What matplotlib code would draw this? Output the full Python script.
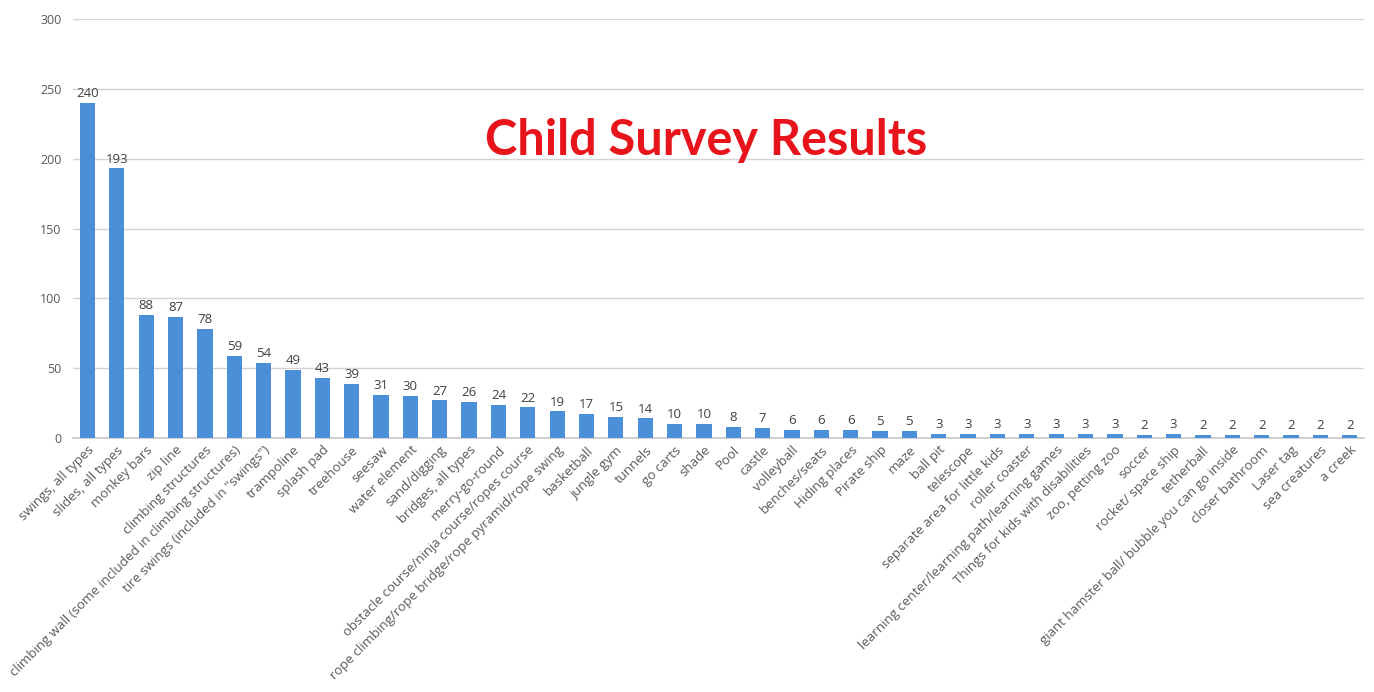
import matplotlib
matplotlib.use("Agg")
import matplotlib.pyplot as plt

categories = [
    "swings, all types", "slides, all types", "monkey bars", "zip line",
    "climbing structures", "climbing wall (some included in climbing structures)",
    "tire swings (included in \"swings\")", "trampoline", "splash pad", "treehouse",
    "seesaw", "water element", "sand/digging", "bridges, all types", "merry-go-round",
    "obstacle course/ninja course/ropes course",
    "rope climbing/rope bridge/rope pyramid/rope swing", "basketball", "jungle gym",
    "tunnels", "go carts", "shade", "Pool", "castle", "volleyball", "benches/seats",
    "Hiding places", "Pirate ship", "maze", "ball pit", "telescope",
    "separate area for little kids", "roller coaster",
    "learning center/learning path/learning games",
    "Things for kids with disabilities", "zoo, petting zoo", "soccer",
    "rocket/ space ship", "tetherball",
    "giant hamster ball/ bubble you can go inside", "closer bathroom", "Laser tag",
    "sea creatures", "a creek",
]
values = [240, 193, 88, 87, 78, 59, 54, 49, 43, 39,
          31, 30, 27, 26, 24, 22, 19, 17, 15, 14,
          10, 10, 8, 7, 6, 6, 6, 5, 5,
          3, 3, 3, 3, 3, 3, 3, 2, 3,
          2, 2, 2, 2, 2, 2]
y_ticks = [0, 50, 100, 150, 200, 250, 300]
title = "Child Survey Results"

plt.rcParams['font.family'] = ['Open Sans', 'DejaVu Sans']

fig = plt.figure(figsize=(13.74, 6.92), dpi=100)
ax = fig.add_axes([0.053, 0.367, 0.940, 0.6055])

x = list(range(len(categories)))
ax.bar(x, values, width=0.52, color='#4A8FD8', zorder=3)
for xi, v in zip(x, values):
    ax.text(xi, v + 2, str(v), ha='center', va='bottom', fontsize=9.5,
            color='#404040', zorder=4)

ax.set_xlim(-0.5, len(categories) - 0.5)
ax.set_ylim(0, 300)
ax.set_yticks(y_ticks)
ax.yaxis.grid(True, color='#d4d4d4', linewidth=1.0, zorder=0)
ax.set_axisbelow(True)
for s in ['top', 'right', 'left']:
    ax.spines[s].set_visible(False)
ax.spines['bottom'].set_color('#c8c8c8')
ax.spines['bottom'].set_linewidth(1.2)
ax.tick_params(axis='y', length=0, labelsize=9, labelcolor='#595959', pad=8)
ax.tick_params(axis='x', length=0, pad=4)
ax.set_xticks(x)
ax.set_xticklabels(categories, rotation=45, ha='right', va='top',
                   rotation_mode='anchor', fontsize=9.5, color='#595959')

ax.text(0.49, 0.71, title, transform=ax.transAxes, ha='center', va='center',
        fontsize=35, fontweight='bold', color='#E8141B', family=['Lato', 'DejaVu Sans'])

fig.savefig("out.png", dpi=100)
